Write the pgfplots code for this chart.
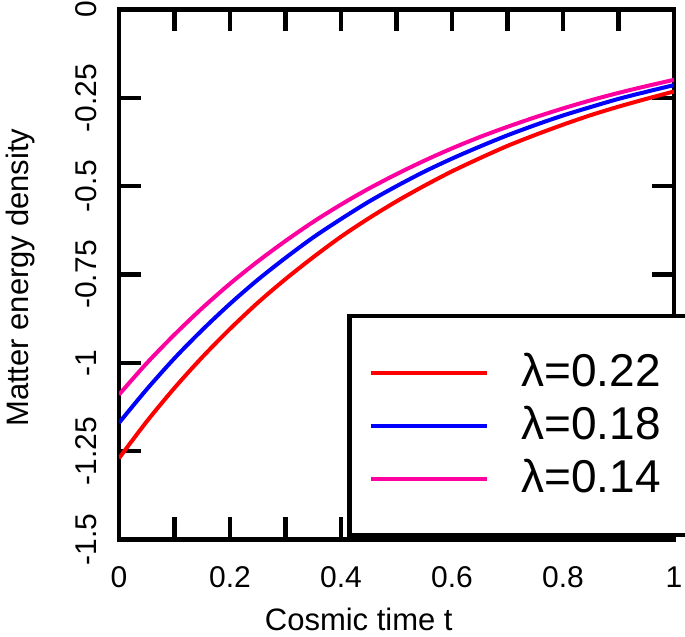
\documentclass[border=0pt]{standalone}
\usepackage{pgfplots}
\pgfplotsset{compat=1.18}
\usepackage{fontspec}
\setmainfont{Liberation Sans}
\definecolor{cred}{RGB}{255,0,0}
\definecolor{cblue}{RGB}{0,0,255}
\definecolor{cpink}{RGB}{255,0,160}
\begin{document}
\begin{tikzpicture}
\begin{axis}[
  name=ax,
  scale only axis, width=555pt, height=530pt,
  xmin=0, xmax=1, ymin=-1.5, ymax=0,
  axis line style={line width=4.5pt},
  every tick/.style={black, line width=4.5pt},
  tick align=inside,
  major tick length=22pt,
  xtick={0,0.1,0.2,0.3,0.4,0.5,0.6,0.7,0.8,0.9,1},
  xticklabels={0,,0.2,,0.4,,0.6,,0.8,,1},
  ytick={-1.5,-1.25,-1,-0.75,-0.5,-0.25,0},
  yticklabels={-1.5,-1.25,-1,-0.75,-0.5,-0.25,0},
  ticklabel style={font=\fontsize{30}{36}\selectfont},
  xticklabel style={inner sep=0pt, anchor=north, yshift=-27pt},
  yticklabel style={xshift=-22pt, rotate=90, anchor=south, inner sep=0pt},
  xlabel={Cosmic time t},
  ylabel={Matter energy density},
  label style={font=\fontsize{31}{37}\selectfont},
  xlabel style={at={(axis description cs:0.432,-0.172)}, anchor=base, inner sep=0pt},
  ylabel style={at={(axis description cs:-0.204,0.494)}, anchor=north, inner sep=0pt},
  legend style={at={(axis description cs:0.411,0.004)}, anchor=south west,
    draw=black, line width=4.5pt, fill=white,
    font=\fontsize{46}{52}\selectfont,
    inner xsep=20pt, inner ysep=37.5pt,
    row sep=15pt, column sep=23pt,
    nodes={inner sep=0pt, text height=33pt, text depth=5pt}},
  legend cell align=left,
  legend image code/.code={\draw[#1, line width=4pt] (0pt,0pt) -- (116pt,0pt);},
]
\addplot[cred, line width=4pt, smooth] coordinates {
(0,-1.270) (0.05,-1.166) (0.1,-1.071) (0.15,-0.984) (0.2,-0.904) (0.25,-0.830)
(0.3,-0.763) (0.35,-0.701) (0.4,-0.643) (0.45,-0.591) (0.5,-0.543) (0.55,-0.499)
(0.6,-0.458) (0.65,-0.421) (0.7,-0.386) (0.75,-0.355) (0.8,-0.326) (0.85,-0.299)
(0.9,-0.275) (0.95,-0.253) (1,-0.232)};
\addlegendentry{\hspace*{9pt}λ=0.22\hspace*{9pt}}
\addplot[cblue, line width=4pt, smooth] coordinates {
(0,-1.170) (0.05,-1.075) (0.1,-0.987) (0.15,-0.907) (0.2,-0.833) (0.25,-0.765)
(0.3,-0.703) (0.35,-0.645) (0.4,-0.593) (0.45,-0.544) (0.5,-0.500) (0.55,-0.459)
(0.6,-0.422) (0.65,-0.388) (0.7,-0.356) (0.75,-0.327) (0.8,-0.300) (0.85,-0.276)
(0.9,-0.253) (0.95,-0.233) (1,-0.214)};
\addlegendentry{\hspace*{9pt}λ=0.18\hspace*{9pt}}
\addplot[cpink, line width=4pt, smooth] coordinates {
(0,-1.090) (0.05,-1.001) (0.1,-0.920) (0.15,-0.845) (0.2,-0.776) (0.25,-0.713)
(0.3,-0.655) (0.35,-0.601) (0.4,-0.552) (0.45,-0.507) (0.5,-0.466) (0.55,-0.428)
(0.6,-0.393) (0.65,-0.361) (0.7,-0.332) (0.75,-0.305) (0.8,-0.280) (0.85,-0.257)
(0.9,-0.236) (0.95,-0.217) (1,-0.199)};
\addlegendentry{\hspace*{9pt}λ=0.14\hspace*{9pt}}
\end{axis}
\pgfresetboundingbox
\path ([xshift=-119pt,yshift=-97pt]ax.south west) rectangle ([xshift=11pt,yshift=9.5pt]ax.north east);
\end{tikzpicture}
\end{document}
